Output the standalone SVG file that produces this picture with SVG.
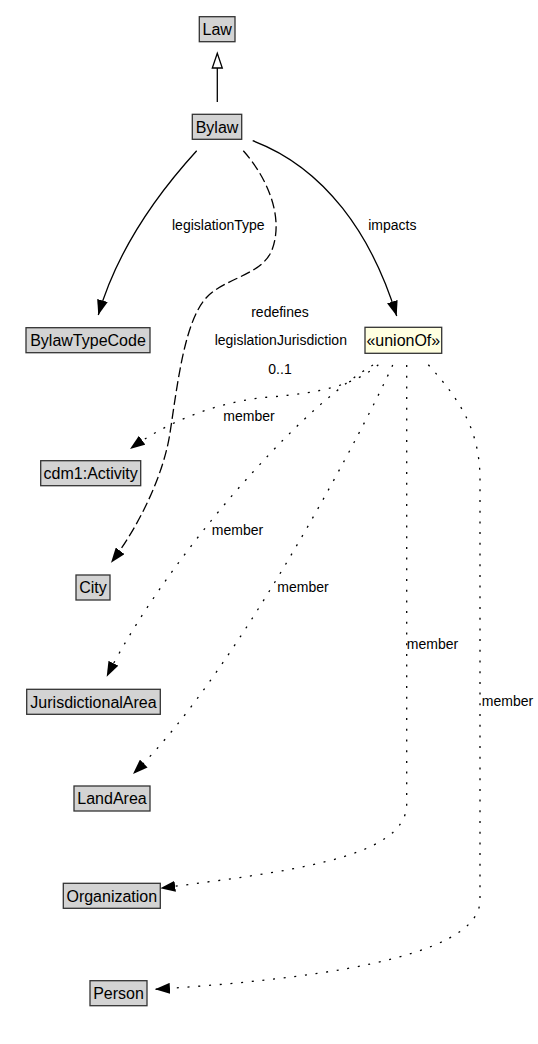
<svg xmlns="http://www.w3.org/2000/svg" width="538" height="1044" viewBox="0 0 538 1044">
<style>
.node rect{fill:#d3d3d3;stroke:#333;stroke-width:1.3}
.node.union rect{fill:#ffffe0}
.node text{font-family:"Liberation Sans",Arial,sans-serif;font-size:16px;fill:#000;text-anchor:middle}
.lbl{font-family:"Liberation Sans",Arial,sans-serif;font-size:14px;fill:#000;text-anchor:middle}
.e{fill:none;stroke:#000;stroke-width:1.3}
.dash{stroke-dasharray:10,4}
.dot{stroke-dasharray:2,8.7}
</style>
<defs>
<marker id="arr" markerUnits="userSpaceOnUse" markerWidth="15" markerHeight="11" refX="15" refY="5.5" orient="auto">
<path d="M0,0 L15,5.5 L0,11 z" fill="#000"/>
</marker>
</defs>
<rect width="538" height="1044" fill="#fff"/>
<g id="connectors">
<path class="e" d="M217.3,102 V68"/>
<path d="M217.3,53.3 L212.3,68 L222.3,68 z" fill="#fff" stroke="#000" stroke-width="1.3"/>
<path class="e" d="M196.7,150.7 C170,180 120,240 98.3,315" marker-end="url(#arr)"/>
<path class="e" d="M252.7,140.7 C325,168 372,235 396.7,316" marker-end="url(#arr)"/>
<path class="e dash" d="M243.3,150.7 C265,175 285,215 272,250 C262,275 225,278 207,297 C185,320 178,380 170,433 C164,473 140,525 111,562.7" marker-end="url(#arr)"/>
<path class="e dot" d="M378.3,364.7 C355,385 320,393 270,397 C220,401 170,420 130,449" marker-end="url(#arr)"/>
<path class="e dot" d="M373,365 C340,385 300,420 253,472 C200,530 140,610 106.7,676.7" marker-end="url(#arr)"/>
<path class="e dot" d="M392.7,365 C372,412 240,670 133,774" marker-end="url(#arr)"/>
<path class="e dot" d="M406.7,365 V805 C405,860 280,872 160.3,888.3" marker-end="url(#arr)"/>
<path class="e dot" d="M428.3,364.7 C460,400 480,430 480,480 L480,900 C480,960 300,980 155,989.3" marker-end="url(#arr)"/>
<text class="lbl" x="218.3" y="230">legislationType</text>
<text class="lbl" x="392.3" y="230">impacts</text>
<text class="lbl" x="280" y="316.7">redefines</text>
<text class="lbl" x="280.8" y="345">legislationJurisdiction</text>
<text class="lbl" x="280" y="374">0..1</text>
<text class="lbl" x="249" y="421">member</text>
<text class="lbl" x="237.5" y="535">member</text>
<text class="lbl" x="303" y="591.7">member</text>
<text class="lbl" x="432.5" y="649.3">member</text>
<text class="lbl" x="507.5" y="706">member</text>
</g>
<g id="Law" class="node"><rect x="199.3" y="16.7" width="35.7" height="25"/><text x="217.2" y="34.9">Law</text></g>
<g id="Bylaw" class="node"><rect x="192.3" y="114.3" width="49.4" height="25"/><text x="217" y="132.5">Bylaw</text></g>
<g id="BylawTypeCode" class="node"><rect x="26" y="327.7" width="124" height="25"/><text x="88" y="345.9">BylawTypeCode</text></g>
<g id="unionOf" class="node union"><rect x="365" y="327.3" width="76.7" height="26"/><text x="403.3" y="346">«unionOf»</text></g>
<g id="cdm1_Activity" class="node"><rect x="40.7" y="460.7" width="100" height="25"/><text x="90.7" y="478.9">cdm1:Activity</text></g>
<g id="City" class="node"><rect x="76" y="575" width="34" height="25"/><text x="93" y="593.2">City</text></g>
<g id="JurisdictionalArea" class="node"><rect x="26.7" y="689.3" width="133.6" height="25"/><text x="93.5" y="707.5">JurisdictionalArea</text></g>
<g id="LandArea" class="node"><rect x="74" y="786" width="76" height="25"/><text x="112" y="804.2">LandArea</text></g>
<g id="Organization" class="node"><rect x="63.3" y="883.3" width="97" height="25"/><text x="111.8" y="901.5">Organization</text></g>
<g id="Person" class="node"><rect x="90" y="980.7" width="57" height="25"/><text x="118.5" y="998.9">Person</text></g>
</svg>
